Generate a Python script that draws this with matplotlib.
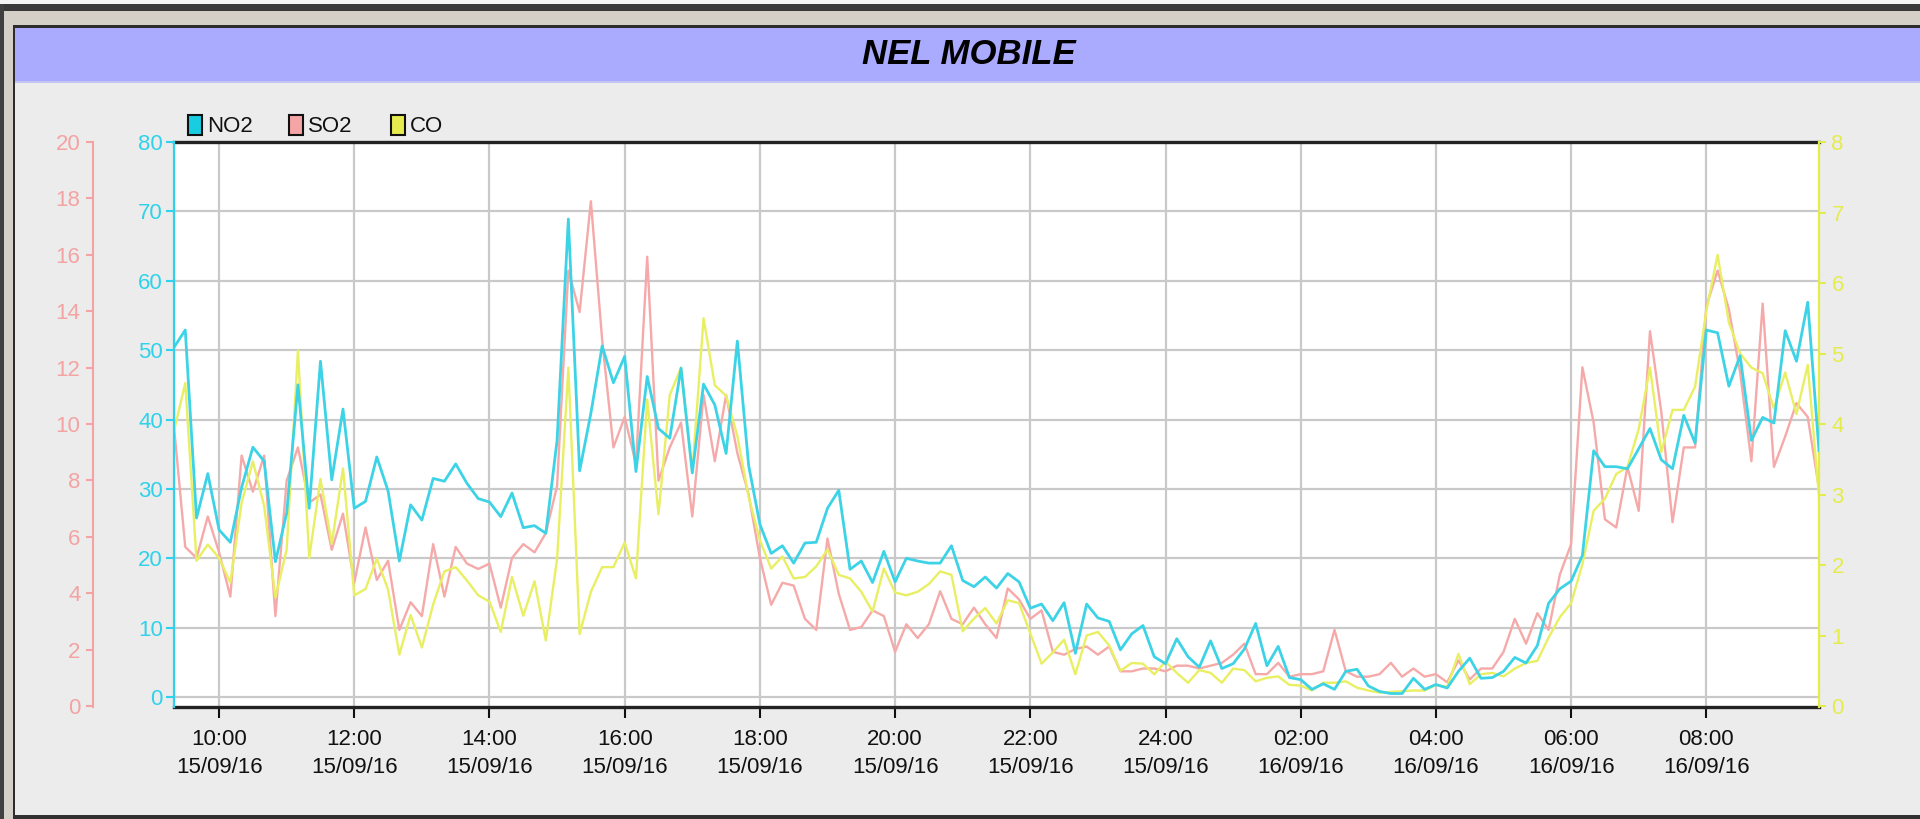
import matplotlib
matplotlib.use("Agg")
import matplotlib.pyplot as plt
from matplotlib.patches import Rectangle
from matplotlib import font_manager
import pandas as pd

# ---------------- data ----------------
start_time = "2016-09-15 09:20"
step = "10min"

no2 = [50.4, 52.9, 25.8, 32.2, 24.1, 22.3, 30.2, 36.0, 34.0, 19.5,
       26.5, 45.0, 27.2, 48.4, 31.3, 41.5, 27.2, 28.2, 34.6, 29.7,
       19.6, 27.7, 25.5, 31.5, 31.1, 33.6, 30.8, 28.6, 28.1, 26.0,
       29.4, 24.4, 24.7, 23.6, 37.0, 68.9, 32.6, 40.9, 50.6, 45.3,
       49.1, 32.5, 46.2, 38.7, 37.3, 47.4, 32.3, 45.1, 42.1, 35.1,
       51.3, 33.4, 24.9, 20.7, 21.8, 19.3, 22.2, 22.3, 27.2, 29.8,
       18.4, 19.6, 16.5, 21.0, 16.6, 20.0, 19.6, 19.3, 19.3, 21.8,
       16.8, 15.9, 17.3, 15.7, 17.8, 16.6, 12.8, 13.4, 11.0, 13.6,
       6.3, 13.4, 11.4, 10.9, 6.8, 9.1, 10.3, 5.8, 4.8, 8.4,
       5.8, 4.3, 8.1, 4.1, 4.8, 6.9, 10.6, 4.5, 7.3, 2.8,
       2.5, 1.1, 1.9, 1.1, 3.7, 4.0, 1.6, 0.8, 0.5, 0.5,
       2.7, 1.1, 1.8, 1.3, 3.7, 5.6, 2.7, 2.8, 3.7, 5.7,
       4.9, 7.4, 13.5, 15.6, 16.7, 20.4, 35.5, 33.2, 33.2, 32.9,
       35.8, 38.7, 34.2, 32.9, 40.6, 36.6, 52.9, 52.5, 44.8, 49.2,
       37.0, 40.3, 39.5, 52.8, 48.4, 56.9, 35.5]

so2 = [9.9, 5.64, 5.25, 6.72, 5.45, 3.88, 8.88, 7.6, 8.88, 3.19,
       7.99, 9.17, 7.21, 7.5, 5.54, 6.82, 4.37, 6.33, 4.47, 5.15,
       2.7, 3.68, 3.19, 5.74, 3.88, 5.64, 5.05, 4.86, 5.05, 3.49,
       5.25, 5.74, 5.45, 6.13, 7.8, 15.44, 13.97, 17.9, 12.99, 9.17,
       10.25, 8.58, 15.93, 7.99, 9.17, 10.05, 6.72, 11.03, 8.68, 11.03,
       8.97, 7.5, 5.25, 3.59, 4.37, 4.27, 3.09, 2.7, 5.94, 3.98,
       2.7, 2.8, 3.39, 3.19, 1.92, 2.9, 2.41, 2.9, 4.07, 3.09,
       2.9, 3.49, 2.9, 2.41, 4.17, 3.78, 3.09, 3.39, 1.92, 1.82,
       2.02, 2.11, 1.82, 2.11, 1.23, 1.23, 1.33, 1.33, 1.23, 1.43,
       1.43, 1.33, 1.43, 1.53, 1.82, 2.21, 1.13, 1.13, 1.53, 1.04,
       1.13, 1.13, 1.23, 2.7, 1.23, 1.04, 1.04, 1.13, 1.53, 1.04,
       1.33, 1.04, 1.13, 0.84, 1.62, 0.94, 1.33, 1.33, 1.92, 3.09,
       2.21, 3.29, 2.7, 4.66, 5.74, 12.01, 10.05, 6.62, 6.33, 8.48,
       6.92, 13.29, 10.44, 6.52, 9.17, 9.17, 14.17, 15.44, 14.07, 11.82,
       8.68, 14.27, 8.48, 9.56, 10.74, 10.25, 7.7]

co = [3.9, 4.58, 2.06, 2.29, 2.1, 1.75, 2.88, 3.47, 2.84, 1.54,
      2.22, 5.04, 2.1, 3.22, 2.3, 3.37, 1.57, 1.66, 2.09, 1.65,
      0.73, 1.29, 0.83, 1.44, 1.91, 1.97, 1.78, 1.57, 1.48, 1.05,
      1.83, 1.28, 1.77, 0.93, 2.09, 4.8, 1.02, 1.62, 1.97, 1.97,
      2.32, 1.81, 4.35, 2.72, 4.41, 4.8, 3.32, 5.5, 4.55, 4.4,
      3.83, 2.97, 2.35, 1.95, 2.12, 1.81, 1.83, 1.98, 2.22, 1.86,
      1.81, 1.62, 1.34, 1.95, 1.61, 1.57, 1.62, 1.73, 1.91, 1.86,
      1.06, 1.24, 1.39, 1.17, 1.5, 1.46, 1.03, 0.6, 0.76, 0.94,
      0.45, 1.0, 1.05, 0.86, 0.5, 0.61, 0.6, 0.45, 0.63, 0.47,
      0.33, 0.51, 0.47, 0.33, 0.53, 0.51, 0.35, 0.4, 0.42, 0.3,
      0.29, 0.22, 0.33, 0.33, 0.35, 0.26, 0.22, 0.19, 0.2, 0.21,
      0.22, 0.22, 0.3, 0.27, 0.74, 0.31, 0.45, 0.47, 0.42, 0.53,
      0.61, 0.64, 0.97, 1.26, 1.46, 2.01, 2.77, 2.94, 3.29, 3.39,
      3.93, 4.8, 3.6, 4.2, 4.2, 4.53, 5.6, 6.4, 5.44, 5.0,
      4.8, 4.72, 4.22, 4.73, 4.14, 4.84, 2.97]

series_names = ["NO2", "SO2", "CO"]
no2_ticks = [0, 10, 20, 30, 40, 50, 60, 70, 80]
so2_ticks = [0, 2, 4, 6, 8, 10, 12, 14, 16, 18, 20]
co_ticks = [0, 1, 2, 3, 4, 5, 6, 7, 8]
tick_times = ["2016-09-15 10:00", "2016-09-15 12:00", "2016-09-15 14:00",
              "2016-09-15 16:00", "2016-09-15 18:00", "2016-09-15 20:00",
              "2016-09-15 22:00", "2016-09-16 00:00", "2016-09-16 02:00",
              "2016-09-16 04:00", "2016-09-16 06:00", "2016-09-16 08:00"]
hour_labels = ["10:00", "12:00", "14:00", "16:00", "18:00", "20:00",
               "22:00", "24:00", "02:00", "04:00", "06:00", "08:00"]
date_labels = ["15/09/16"] * 8 + ["16/09/16"] * 4
title = "NEL MOBILE"

# ---------------- style ----------------
W, H = 1920, 819
names = {f.name for f in font_manager.fontManager.ttflist}
if "Liberation Sans Narrow" in names:
    FONT, FS, TFS = "Liberation Sans Narrow", 17.5, 28
elif "Liberation Sans" in names:
    FONT, FS, TFS = "Liberation Sans", 16, 25
else:
    FONT, FS, TFS = "DejaVu Sans", 14, 22
plt.rcParams["font.family"] = [FONT, "DejaVu Sans"]

c_no2_line = "#3dd3e6"
c_so2_line = "#f6a9a9"
c_co_line = "#e9ef62"
c_no2_txt = "#2fd2ea"
c_so2_txt = "#f4a3a3"
c_co_txt = "#e4ec4c"
c_no2_box = "#18cde2"
c_so2_box = "#f5a5a5"
c_co_box = "#e6ec4e"

fig = plt.figure(figsize=(W / 100, H / 100), dpi=100, facecolor="#ececec")


def rect(x0, y0, x1, y1, color, z=0):
    r = Rectangle((x0 / W, 1 - y1 / H), (x1 - x0) / W, (y1 - y0) / H,
                  transform=fig.transFigure, facecolor=color, edgecolor="none",
                  zorder=z)
    fig.add_artist(r)
    return r


# window frame
rect(0, 0, W, 4, "#f4f4f4")
rect(0, 4, W, 11, "#3a3a3a")
rect(0, 11, W, 25, "#d4d0c8")
rect(0, 4, 4, H, "#404040")
rect(4, 11, 13, H, "#d4d0c8")
rect(13, 25, W, 28, "#2c2c2c")
rect(13, 25, 15, 819, "#2c2c2c")
rect(13, 815, W, 819, "#303030")
rect(15, 28, W, 82, "#aaaaff")
rect(15, 81, W, 83, "#c4c4f4")

fig.text(969 / W, 1 - 55 / H, title, ha="center", va="center",
         fontsize=TFS, fontweight="bold", fontstyle="italic", color="#000000")

# legend
leg_x = [188, 289, 391]
leg_cols = [c_no2_box, c_so2_box, c_co_box]
for x0, name, col in zip(leg_x, series_names, leg_cols):
    r = Rectangle((x0 / W, 1 - 135 / H), 14 / W, 20 / H,
                  transform=fig.transFigure, facecolor=col,
                  edgecolor="#111111", linewidth=1.5)
    fig.add_artist(r)
    fig.text((x0 + 19) / W, 1 - 126 / H, name, ha="left", va="center",
             fontsize=FS, color="#111111")

# ---------------- axes ----------------
L, R, T, B = 174, 1819, 142, 707
ax_rect = [L / W, 1 - B / H, (R - L) / W, (B - T) / H]

times = pd.date_range(start_time, periods=len(no2), freq=step)
ticks = pd.to_datetime(tick_times)

ax_bg = fig.add_axes(ax_rect, facecolor="white")
ax_so2 = fig.add_axes(ax_rect, sharex=ax_bg, facecolor="none")
ax_co = fig.add_axes(ax_rect, sharex=ax_bg, facecolor="none")
ax_no2 = fig.add_axes(ax_rect, sharex=ax_bg, facecolor="none")

no2_bottom = -10 / ((697 - 142) / 80)

# background: grid + x axis
ax_bg.set_xlim(times[0], times[-1])
ax_bg.set_ylim(no2_bottom, 80)
ax_bg.set_yticks(no2_ticks)
ax_bg.set_xticks(ticks)
ax_bg.set_xticklabels([f"{h}\n{d}" for h, d in zip(hour_labels, date_labels)],
                      linespacing=1.45)
ax_bg.tick_params(axis="x", length=8, width=1.5, color="#111111", pad=8,
                  labelsize=FS, labelcolor="#111111")
ax_bg.tick_params(axis="y", left=False, labelleft=False)
ax_bg.grid(True, color="#c9c9c9", linewidth=1.6)
ax_bg.set_axisbelow(True)
for s in ["left", "right"]:
    ax_bg.spines[s].set_visible(False)
for s in ["top", "bottom"]:
    ax_bg.spines[s].set_color("#222222")
    ax_bg.spines[s].set_linewidth(2.4)

for a in (ax_so2, ax_co, ax_no2):
    a.tick_params(axis="x", which="both", bottom=False, labelbottom=False)
    for s in ["top", "bottom", "left", "right"]:
        a.spines[s].set_visible(False)

# SO2 axis (outer left)
ax_so2.plot(times, so2, color=c_so2_line, linewidth=1.7)
ax_so2.set_ylim(-0.035, 20)
ax_so2.set_yticks(so2_ticks)
ax_so2.spines["left"].set_visible(True)
ax_so2.spines["left"].set_position(("axes", (93 - L) / (R - L)))
ax_so2.spines["left"].set_color(c_so2_txt)
ax_so2.spines["left"].set_linewidth(1.5)
ax_so2.yaxis.tick_left()
ax_so2.tick_params(axis="y", colors=c_so2_txt, length=5, width=1.5, pad=4,
                   labelsize=FS)

# CO axis (right)
ax_co.plot(times, co, color=c_co_line, linewidth=1.7)
ax_co.set_ylim(-0.014, 8)
ax_co.set_yticks(co_ticks)
ax_co.spines["right"].set_visible(True)
ax_co.spines["right"].set_color(c_co_txt)
ax_co.spines["right"].set_linewidth(1.6)
ax_co.yaxis.tick_right()
ax_co.tick_params(axis="y", left=False, labelleft=False, right=True,
                  labelright=True, colors=c_co_txt, length=5, width=1.5,
                  pad=4, labelsize=FS)

# NO2 axis (inner left)
ax_no2.plot(times, no2, color=c_no2_line, linewidth=2.0)
ax_no2.set_ylim(no2_bottom, 80)
ax_no2.set_yticks(no2_ticks)
ax_no2.spines["left"].set_visible(True)
ax_no2.spines["left"].set_color(c_no2_txt)
ax_no2.spines["left"].set_linewidth(1.6)
ax_no2.yaxis.tick_left()
ax_no2.tick_params(axis="y", colors=c_no2_txt, length=6, width=1.5, pad=2,
                   labelsize=FS)

fig.savefig("out.png", dpi=100, facecolor=fig.get_facecolor())
